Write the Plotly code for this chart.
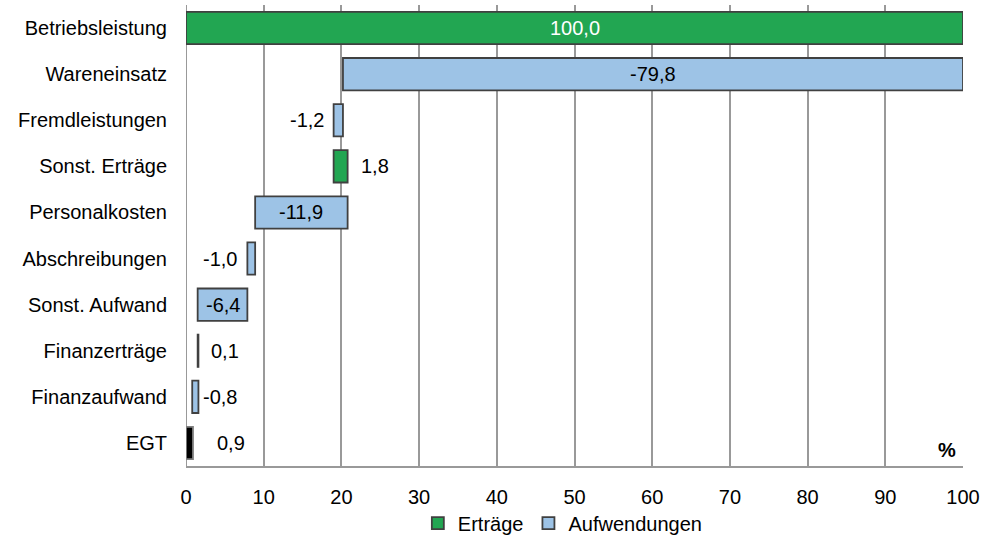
import plotly.graph_objects as go

categories = ["Betriebsleistung", "Wareneinsatz", "Fremdleistungen", "Sonst. Erträge",
              "Personalkosten", "Abschreibungen", "Sonst. Aufwand", "Finanzerträge",
              "Finanzaufwand", "EGT"]
values = [100.0, -79.8, -1.2, 1.8, -11.9, -1.0, -6.4, 0.1, -0.8, 0.9]
is_total = [False, False, False, False, False, False, False, False, False, True]
x_ticks = [0, 10, 20, 30, 40, 50, 60, 70, 80, 90, 100]

GREEN = "#22A652"
BLUE = "#9DC3E6"
BORDER = "#404040"
FONT = "Liberation Sans, Arial, sans-serif"
FS = 20

# waterfall geometry
starts, ends = [], []
running = 0.0
for v, t in zip(values, is_total):
    if t:
        s, e = 0.0, v
    else:
        s, e = running, running + v
        running = e
    starts.append(s)
    ends.append(e)

def fmt(v):
    return f"{v:.1f}".replace(".", ",")

fig = go.Figure()

groups = {"Erträge": ([], [], []), "Aufwendungen": ([], [], []), "EGT": ([], [], [])}
for c, v, s, e, t in zip(categories, values, starts, ends, is_total):
    key = "EGT" if t else ("Erträge" if v >= 0 else "Aufwendungen")
    groups[key][0].append(c)
    groups[key][1].append(abs(e - s))
    groups[key][2].append(min(s, e))

styles = {"Erträge": (GREEN, True), "Aufwendungen": (BLUE, True), "EGT": ("#000000", False)}
for name, (ys, xs, bs) in groups.items():
    color, show = styles[name]
    fig.add_trace(go.Bar(
        y=ys, x=xs, base=bs, orientation="h", name=name, showlegend=show,
        marker=dict(color=color, line=dict(color=BORDER if name != "EGT" else "#808080", width=1.8)),
        width=0.7, hoverinfo="skip",
    ))

annotations = []
for c, v, s, e, t in zip(categories, values, starts, ends, is_total):
    lo, hi = min(s, e), max(s, e)
    if abs(v) >= 5:
        annotations.append(dict(x=(lo + hi) / 2, y=c, text=fmt(v), showarrow=False,
                                font=dict(family=FONT, size=FS,
                                          color="#FFFFFF" if v > 0 else "#000000"),
                                xanchor="center", yanchor="middle"))
    else:
        if v < 0 and lo > 5:
            annotations.append(dict(x=lo, y=c, text=fmt(v), showarrow=False,
                                    font=dict(family=FONT, size=FS, color="#000000"),
                                    xanchor="right", yanchor="middle", xshift=-8))
        else:
            annotations.append(dict(x=hi, y=c, text=fmt(v), showarrow=False,
                                    font=dict(family=FONT, size=FS, color="#000000"),
                                    xanchor="left", yanchor="middle",
                                    xshift=(22 if t else (3 if v < 0 else 11))))

annotations.append(dict(x=1, y=0, xref="paper", yref="paper", text="<b>%</b>",
                        showarrow=False, xanchor="right", yanchor="bottom",
                        xshift=-5, yshift=3, font=dict(family=FONT, size=FS, color="#000000")))

fig.update_layout(
    width=983, height=542,
    margin=dict(l=186, r=20, t=5, b=76, autoexpand=False),
    plot_bgcolor="#FFFFFF", paper_bgcolor="#FFFFFF",
    barmode="overlay",
    font=dict(family=FONT, size=FS, color="#000000"),
    annotations=annotations,
    legend=dict(orientation="h", x=0.485, xanchor="center", y=-0.124, yanchor="middle",
                font=dict(family=FONT, size=FS, color="#000000"),
                itemwidth=30, tracegroupgap=0),
    xaxis=dict(range=[0, 100], tickvals=x_ticks, ticktext=[str(t) for t in x_ticks],
               showgrid=True, gridcolor="#999999", gridwidth=1.5,
               showline=True, linecolor="#999999", linewidth=2,
               zeroline=False, ticks="", ticklabelstandoff=12, automargin=False,
               tickfont=dict(family=FONT, size=FS, color="#000000"), fixedrange=True),
    yaxis=dict(categoryorder="array", categoryarray=categories, autorange=False,
               range=[9.5, -0.5], showgrid=False, showline=False, zeroline=False,
               ticks="", ticklabelstandoff=18, automargin=False,
               tickfont=dict(family=FONT, size=FS, color="#000000"), fixedrange=True),
    shapes=[dict(type="line", xref="x", yref="paper", x0=0, x1=0, y0=0, y1=1,
                 line=dict(color="#999999", width=2), layer="below")],
)

fig.write_html("out.html")
